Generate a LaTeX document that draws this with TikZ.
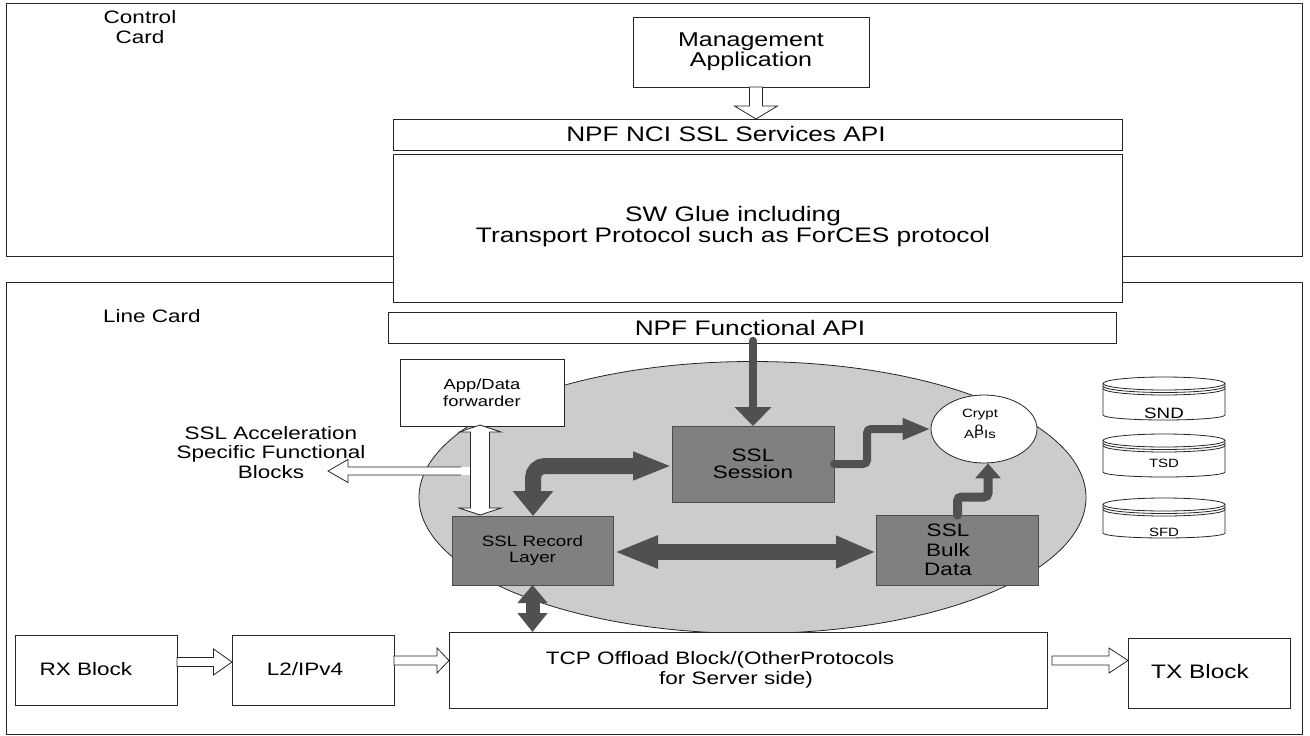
\documentclass[tikz,border=0pt]{standalone}
\usepackage{fontspec}
\setmainfont{Liberation Sans}[FakeStretch=1.25]
\usetikzlibrary{arrows.meta,calc,shapes.geometric}
\definecolor{boxgray}{RGB}{128,128,128}
\definecolor{arrowgray}{RGB}{80,80,80}
\definecolor{poolgray}{RGB}{204,204,204}
\newcommand\fs[2]{\fontsize{#1}{#2}\selectfont}
% hollow arrow pointing right: from, to, shaft half width, head half width, head length
\newcommand\hollowright[5]{%
  \draw[hollow] let \p1=(#1), \p2=(#2) in
    (\x1,\y1+#3) -- (\x2-#5,\y1+#3) -- (\x2-#5,\y1+#4) -- (\x2,\y1)
    -- (\x2-#5,\y1-#4) -- (\x2-#5,\y1-#3) -- (\x1,\y1-#3) -- cycle;}
% hollow arrow pointing down
\newcommand\hollowdown[5]{%
  \draw[hollow] let \p1=(#1), \p2=(#2) in
    (\x1-#3,\y1) -- (\x1-#3,\y2+#5) -- (\x1-#4,\y2+#5) -- (\x1,\y2)
    -- (\x1+#4,\y2+#5) -- (\x1+#3,\y2+#5) -- (\x1+#3,\y1) -- cycle;}
% hollow vertical arrow with heads at both ends
\newcommand\hollowupdown[5]{%
  \draw[hollow] let \p1=(#1), \p2=(#2) in
    (\x1,\y1) -- (\x1+#4,\y1-#5) -- (\x1+#3,\y1-#5) -- (\x1+#3,\y2+#5)
    -- (\x1+#4,\y2+#5) -- (\x1,\y2) -- (\x1-#4,\y2+#5) -- (\x1-#3,\y2+#5)
    -- (\x1-#3,\y1-#5) -- (\x1-#4,\y1-#5) -- cycle;}
% disk-stack symbol: left x, top y, bottom y
\newcommand\diskstack[3]{%
  \filldraw[disk, fill=white]
    (#1,#2+6.5) -- (#1,#3-5) arc[start angle=180,end angle=0,x radius=61,y radius=5]
    -- (#1+122,#2+6.5) arc[start angle=0,end angle=-180,x radius=61,y radius=6.5] -- cycle;
  \draw[disk] (#1,#2+6.5) arc[start angle=180,end angle=0,x radius=61,y radius=6.5];
  \draw[disk] (#1,#2+9) arc[start angle=180,end angle=0,x radius=61,y radius=6.5];
  \draw[disk] (#1,#2+11.5) arc[start angle=180,end angle=0,x radius=61,y radius=6.5];}
\begin{document}
\begin{tikzpicture}[x=1pt,y=-1pt,
  rect/.style 2 args={rectangle, minimum width=#1pt, minimum height=#2pt},
  box/.style={draw=black!85, line width=0.9pt, fill=white, inner sep=0pt, outer sep=0pt, align=center},
  darkbox/.style={draw=black!70, line width=0.9pt, fill=boxgray, inner sep=0pt, outer sep=0pt, align=center},
  txt/.style={inner sep=0pt, outer sep=0pt, align=center},
  hollow/.style={draw=black!85, line width=0.8pt, fill=white},
  hollowline/.style={draw=black!85, line width=0.8pt},
  disk/.style={draw=black!85, line width=0.8pt},
  fat/.style={draw=arrowgray, line width=16pt},
  thin/.style={draw=arrowgray, line cap=round, rounded corners=4pt}
]
\useasboundingbox (0,0) rectangle (1310,736);

% the two cards
\node[box, rect={1296}{253}] (ctrl) at (654,129.5) {};
\node[box, rect={1296}{452}] (linec) at (654,508) {};
\node[txt, font=\fs{18}{20}] (ctrlT) at (140,27) {Control\\Card};
\node[txt, font=\fs{18}{20}] (lineT) at (152,316) {Line Card};

% control card stack
\node[box, rect={729}{148}] (glue) at (757.5,228) {};
\node[txt, font=\fs{21}{19}] (glueT) at (733,226.5) {SW Glue including\\Transport Protocol such as ForCES protocol};
\node[box, rect={236}{70}, font=\fs{20}{20}] (mgmt) at (751,52) {Management\\Application};
\node[box, rect={729}{31}] (nci) at (757.5,134.5) {};
\node[txt, font=\fs{21}{21}] (nciT) at (726,134) {NPF NCI SSL Services API};
\node[box, rect={728}{31}] (func) at (752,327.5) {};
\node[txt, font=\fs{21}{21}] (funcT) at (750,327.5) {NPF Functional API};

% SSL acceleration pool
\node[ellipse, draw=black!85, line width=0.8pt, fill=poolgray, inner sep=0pt,
      minimum width=667pt, minimum height=272pt] (pool) at (752.5,497.5) {};
\node[box, rect={164}{67}, font=\fs{14.7}{17}] (app) at (482,392.5) {App/Data\\forwarder};
\node[darkbox, rect={161}{69}, font=\fs{15}{16}] (rec) at (532.5,550.5) {SSL Record\\Layer};
\node[darkbox, rect={162}{76}, font=\fs{18}{16.7}] (sess) at (753,464) {SSL\\Session};
\node[darkbox, rect={162}{70}] (bulk) at (957,550) {};
\node[txt, font=\fs{18}{19.5}] (bulkT) at (948,550) {SSL\\Bulk\\Data};
\node[ellipse, draw=black!85, line width=0.8pt, fill=white, inner sep=0pt,
      minimum width=106pt, minimum height=68pt] (crypt) at (984,429) {};
\node[txt, font=\fs{12}{12}] (cryptT) at (980,415) {Crypt};
\node[txt, font=\fs{12}{12}] (cryptO) at (979,428) {o};
\node[txt, font=\fs{12}{12}] (cryptA) at (980,434) {APIs};

% data stores
\diskstack{1103}{377}{420}
\node[txt, font=\fs{15}{15}] (snd) at (1164,413) {SND};
\diskstack{1103}{434}{477}
\node[txt, font=\fs{12}{12}] (tsd) at (1164,463) {TSD};
\diskstack{1103}{498}{538}
\node[txt, font=\fs{12}{12}] (sfd) at (1164,532) {SFD};

% data path
\node[box, rect={162}{70}] (rx) at (96,670) {};
\node[txt, font=\fs{18}{18}] (rxT) at (86,669) {RX Block};
\node[box, rect={162}{70}] (l2) at (313,670) {};
\node[txt, font=\fs{18}{18}] (l2T) at (305,669) {L2/IPv4};
\node[box, rect={598}{76}] (tcp) at (748,670) {};
\node[txt, font=\fs{18}{20}] (tcpT) at (720,670) {TCP Offload Block/(OtherProtocols\\\hspace*{32pt}for Server side)};
\node[box, rect={162}{70}] (tx) at (1209,673) {};
\node[txt, font=\fs{19.5}{19.5}] (txT) at (1200,672) {TX Block};

\node[txt, font=\fs{18}{19.5}] (accelT) at (271,452.5) {SSL Acceleration\\Specific Functional\\Blocks};

% hollow connectors
\hollowdown{$(mgmt.south)+(5,0)$}{$(nci.north)+(-1.5,0)$}{6.5pt}{21.5pt}{13pt}
\hollowright{$(rx.east)+(0,-8)$}{l2.west}{4.5pt}{13pt}{18.5pt}
\hollowright{$(l2.east)+(0,-9.5)$}{tcp.west}{4.5pt}{12.5pt}{12pt}
\hollowright{$(tcp.east)+(5,-9.5)$}{tx.west}{4.5pt}{12.5pt}{19pt}

\coordinate (accTip) at (328,471);
\coordinate (accEnd) at (471,471);
\fill[white] let \p1=(accEnd), \p2=(accTip) in
  (\x1,\y1+4pt) -- (\x2+20pt,\y1+4pt) -- (\x2+20pt,\y1+11.5pt) -- (\x2,\y1)
  -- (\x2+20pt,\y1-11.5pt) -- (\x2+20pt,\y1-4pt) -- (\x1,\y1-4pt) -- cycle;
\draw[hollowline] let \p1=(accEnd), \p2=(accTip) in
  (\x1-10pt,\y1+4pt) -- (\x2+20pt,\y1+4pt) -- (\x2+20pt,\y1+11.5pt) -- (\x2,\y1)
  -- (\x2+20pt,\y1-11.5pt) -- (\x2+20pt,\y1-4pt) -- (\x1-10pt,\y1-4pt);
\hollowupdown{$(app.south)+(-2,-1)$}{$(rec.north)+(0,-1)$}{9.5pt}{21pt}{7pt}

% control and data flows inside the pool
\draw[thin, line width=8.5pt, -{Triangle[width=36pt,length=19pt]}]
  ($(func.south)+(1,-2)$) -- (sess.north);
\draw[fat, rounded corners=12pt,
  {Triangle[width=39pt,length=25pt]}-{Triangle[width=26pt,length=39pt]}]
  ($(rec.north)+(0.5,0)$) |- ($(sess.west)+(0,2)$);
\draw[fat, {Triangle[width=30pt,length=44pt]}-{Triangle[width=30pt,length=40pt]}]
  ($(rec.east)+(1,1.5)$) -- ($(bulk.west)+(0,2)$);
\draw[thin, line width=8pt, -{Triangle[width=20pt,length=28pt]}]
  (sess.east) -- ++(33,0) |- (crypt.west);
\draw[thin, line width=9pt, -{Triangle[width=25pt,length=15pt]}]
  ($(bulk.north)+(0.5,0)$) -- ++(0,-18) -| ($(crypt.south)+(4,0)$);
\draw[arrowgray, line width=14pt,
  {Triangle[width=29pt,length=18pt]}-{Triangle[width=29pt,length=19pt]}]
  (rec.south) -- (rec.south |- tcp.north);
\end{tikzpicture}
\end{document}
